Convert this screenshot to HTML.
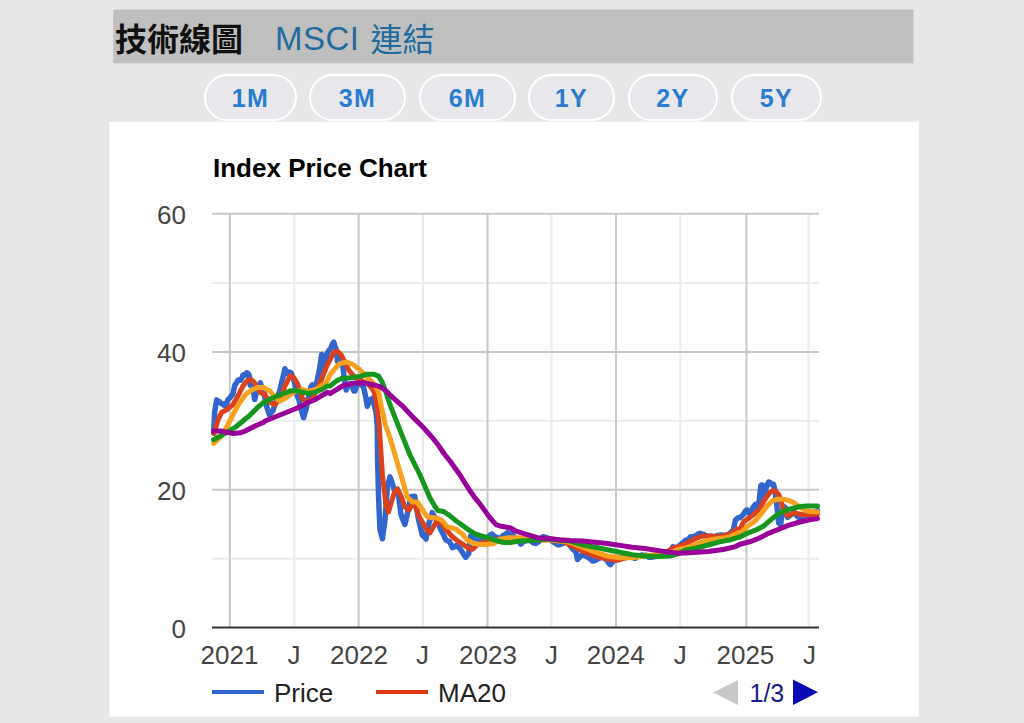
<!DOCTYPE html>
<html lang="zh-Hant">
<head>
<meta charset="utf-8">
<title>技術線圖</title>
<style>
html,body{margin:0;padding:0;}
body{width:1024px;height:723px;overflow:hidden;background:#e7e7e7;position:relative;font-family:"Liberation Sans","Noto Sans CJK TC",sans-serif;}
.bar{position:absolute;left:113px;top:9px;width:800px;height:55px;background:#bfbfbf;}
.ttl{position:absolute;left:115px;top:15px;font-size:32px;font-weight:bold;color:#111;line-height:50px;font-family:"Liberation Sans","Noto Sans CJK TC",sans-serif;letter-spacing:0px;}
.lnk{position:absolute;left:277px;top:13px;font-size:30px;color:#1f6b9e;line-height:50px;font-family:"Liberation Sans","Noto Sans CJK TC",sans-serif;}
.btn{position:absolute;top:74px;background:#e8e8ec;height:43px;border:2px solid #fff;border-radius:24px;box-sizing:content-box;color:#2a7ccf;font-weight:bold;font-size:25px;line-height:45px;letter-spacing:1.5px;text-align:center;}
svg{position:absolute;left:0;top:0;}
</style>
</head>
<body>
<svg width="1024" height="723" style="position:absolute;left:0;top:0"><rect x="113.2" y="9.6" width="800.3" height="53.8" fill="#bfbfbf"/></svg>
<div class="ttl">技術線圖</div>
<div class="lnk" style="left:275px;top:14px;font-size:33px;letter-spacing:0.5px">MSCI</div><div class="lnk" style="left:370.5px;top:15px;font-size:32px">連結</div>
<div class="btn" style="left:204px;width:89px;">1M</div>
<div class="btn" style="left:309px;width:93px;">3M</div>
<div class="btn" style="left:419px;width:93px;">6M</div>
<div class="btn" style="left:528px;width:83px;">1Y</div>
<div class="btn" style="left:628px;width:86px;">2Y</div>
<div class="btn" style="left:731px;width:87px;">5Y</div>
<svg width="1024" height="723" viewBox="0 0 1024 723" font-family="Liberation Sans, Arial, sans-serif">
<rect x="109.3" y="121.7" width="809.5" height="595" fill="#fff"/>
<text x="213" y="177" font-size="26" font-weight="bold" fill="#000">Index Price Chart</text>
<g stroke="#ebebeb" stroke-width="2">
<line x1="212" y1="282.9" x2="819" y2="282.9"/>
<line x1="212" y1="420.8" x2="819" y2="420.8"/>
<line x1="212" y1="558.7" x2="819" y2="558.7"/>
<line x1="294.3" y1="213" x2="294.3" y2="627"/>
<line x1="423" y1="213" x2="423" y2="627"/>
<line x1="551.5" y1="213" x2="551.5" y2="627"/>
<line x1="680.3" y1="213" x2="680.3" y2="627"/>
<line x1="808.5" y1="213" x2="808.5" y2="627"/>
</g>
<g stroke="#c8c8c8" stroke-width="2">
<line x1="212" y1="213.8" x2="819" y2="213.8"/>
<line x1="212" y1="351.9" x2="819" y2="351.9"/>
<line x1="212" y1="489.8" x2="819" y2="489.8"/>
<line x1="229.8" y1="213" x2="229.8" y2="627"/>
<line x1="358.6" y1="213" x2="358.6" y2="627"/>
<line x1="487.5" y1="213" x2="487.5" y2="627"/>
<line x1="616" y1="213" x2="616" y2="627"/>
<line x1="746.4" y1="213" x2="746.4" y2="627"/>
</g>
<g fill="none" stroke-width="5" stroke-linejoin="round" stroke-linecap="round">
<polyline stroke="#3366cc" stroke-width="5.5" points="213.6,432.9 214.8,411.0 216.7,399.9 217.9,401.1 219.2,401.5 220.4,402.7 221.7,403.8 222.9,403.8 224.2,405.5 225.4,405.9 226.7,402.7 227.9,399.8 229.2,398.6 230.4,397.3 231.7,395.1 232.9,394.2 234.8,385.1 235.8,383.8 236.9,382.4 237.9,380.3 239.1,379.9 240.4,380.3 241.6,378.6 242.6,375.8 243.7,374.7 244.7,375.3 246.6,372.9 247.8,373.4 249.1,375.1 250.3,385.4 251.6,385.6 252.8,387.1 254.7,399.6 256.5,392.1 257.8,389.7 259.0,386.2 260.3,382.8 261.5,386.5 262.8,388.6 264.0,390.3 265.0,398.3 266.2,404.7 267.5,409.1 269.4,414.8 270.4,413.4 271.5,412.4 272.5,411.4 273.5,408.7 274.5,405.8 275.5,403.4 276.5,399.7 277.5,396.6 278.7,393.6 280.0,389.8 281.2,384.5 282.4,379.4 283.7,374.1 284.9,368.8 286.1,372.0 287.4,373.6 288.7,372.1 289.9,372.2 291.2,373.0 292.4,376.5 293.6,378.8 294.9,384.4 296.1,391.9 297.4,396.4 298.6,398.7 299.9,403.8 301.1,409.5 302.4,413.8 303.6,417.8 304.9,413.2 306.1,409.0 307.3,402.9 308.6,397.3 309.8,390.3 311.1,386.6 312.3,385.0 313.6,386.1 314.8,385.7 316.1,384.1 317.3,379.6 318.6,373.8 319.8,367.6 321.7,354.4 323.5,370.5 324.8,366.0 326.0,359.1 327.3,353.2 328.6,351.2 330.0,349.1 331.2,347.5 332.5,344.0 333.7,342.1 334.9,345.9 336.2,349.4 337.5,361.6 339.3,361.6 341.2,358.6 343.1,368.6 344.3,377.6 346.2,390.1 347.4,387.0 348.7,384.5 349.7,384.2 350.8,383.8 351.8,384.2 352.8,388.4 353.9,391.0 354.9,391.1 356.8,385.8 357.8,384.3 358.9,384.2 359.9,382.5 361.1,382.8 362.4,385.8 363.6,387.1 365.5,395.9 367.3,406.4 368.6,402.8 369.8,399.7 371.1,399.6 372.3,398.3 374.2,404.7 376.1,412.9 377.3,426.3 377.5,456.3 378.7,500.7 380.0,529.8 381.2,534.0 382.4,538.8 383.7,529.2 385.0,520.0 386.2,503.8 387.4,486.9 388.7,481.8 390.0,476.9 391.2,480.2 392.4,483.8 393.6,487.8 394.9,491.1 396.1,492.4 397.4,493.8 398.6,495.8 399.8,504.8 401.0,514.4 402.3,518.2 403.5,521.2 404.8,524.5 406.1,519.5 407.3,514.0 408.5,507.7 409.8,502.1 411.0,496.7 412.3,496.4 413.5,496.3 414.8,496.3 416.0,504.3 417.3,512.1 418.5,519.3 419.7,524.3 421.0,529.7 422.2,535.0 423.5,536.3 424.7,537.2 426.0,539.0 427.2,531.8 428.5,524.4 429.7,520.8 431.0,517.0 432.2,512.6 433.3,514.6 434.4,516.7 435.4,518.2 436.5,520.1 437.6,522.3 438.7,524.5 440.0,527.7 441.3,530.6 442.6,532.9 444.1,536.1 445.5,539.5 446.8,540.4 448.1,541.1 449.4,541.5 450.9,544.4 452.3,547.6 453.6,547.1 454.8,546.3 456.1,545.5 457.4,546.5 458.7,547.4 460.0,548.6 461.4,550.7 462.9,553.1 464.4,555.4 465.8,557.3 467.2,555.5 468.7,553.8 469.7,544.8 470.7,535.8 472.1,536.8 473.6,538.1 474.7,538.7 475.9,539.1 477.0,539.9 478.0,540.1 479.0,539.9 480.0,539.3 481.0,538.7 482.1,538.7 483.2,538.4 484.4,538.2 485.5,538.1 486.6,537.8 487.7,537.4 488.8,536.5 489.9,535.5 490.9,534.5 492.0,534.0 493.1,535.1 494.2,536.6 495.4,537.2 496.5,537.1 497.6,538.0 498.7,538.9 499.8,538.1 500.9,537.7 501.9,536.7 503.0,535.6 504.1,535.1 505.2,534.7 506.4,533.6 507.5,532.6 508.6,533.5 509.8,533.8 510.8,533.8 511.9,534.5 512.9,535.4 513.9,536.5 515.0,538.2 516.2,538.9 517.3,539.3 518.5,540.5 519.6,542.4 520.8,544.1 521.9,543.0 523.1,542.0 524.2,541.4 525.4,541.0 526.6,540.6 527.7,539.5 528.7,539.9 529.8,540.6 530.8,541.0 531.9,541.6 532.9,542.6 533.9,543.1 535.0,543.2 536.0,543.5 537.0,542.6 538.0,542.1 539.0,541.4 540.0,540.4 541.0,539.3 542.0,538.0 543.0,536.7 544.1,537.1 545.2,537.3 546.3,537.4 547.4,538.0 548.5,538.4 549.6,538.8 550.7,539.4 551.7,540.8 552.8,541.9 553.9,542.2 555.0,542.7 556.0,543.8 557.1,544.5 558.2,544.9 559.3,544.7 560.5,544.5 561.6,543.8 562.7,543.5 563.9,542.8 565.0,541.8 566.0,542.2 567.0,542.4 568.0,543.5 569.0,544.6 570.0,545.1 571.0,546.7 572.1,548.2 573.1,549.5 574.1,550.4 575.2,551.2 576.2,553.0 577.5,559.5 578.7,557.9 580.0,556.7 581.2,555.8 582.4,554.3 583.5,554.4 584.5,555.2 585.5,556.0 586.6,556.5 587.7,557.2 588.7,557.8 589.9,558.7 591.2,559.6 592.4,561.1 593.4,561.0 594.4,560.9 595.4,560.4 596.4,559.7 597.4,559.1 598.4,558.7 599.4,558.2 600.4,557.6 601.4,556.9 602.4,556.4 603.6,557.6 604.8,558.5 606.1,559.7 607.3,561.0 608.4,562.5 609.4,563.9 610.5,564.6 611.6,563.0 612.6,562.0 613.7,560.9 614.8,559.7 615.8,559.4 616.8,558.4 617.8,557.6 618.8,557.9 619.8,558.0 620.8,557.8 621.9,557.0 622.9,556.7 623.9,556.7 625.0,556.2 626.0,556.1 627.1,556.7 628.2,556.7 629.3,556.7 630.4,557.0 631.4,557.3 632.5,557.3 633.6,557.7 634.7,558.4 635.8,558.1 636.8,557.0 637.9,556.2 639.0,556.1 640.1,555.6 641.1,555.2 642.2,555.0 643.3,555.4 644.4,555.4 645.5,555.3 646.5,555.3 647.6,556.2 648.7,557.3 649.8,557.3 650.9,557.3 652.0,557.0 653.1,557.0 654.2,556.6 655.2,556.0 656.3,555.9 657.4,555.8 658.5,555.3 659.6,554.9 660.6,555.0 661.6,554.6 662.6,553.9 663.6,553.5 664.6,553.4 665.6,553.4 666.6,553.2 667.6,553.1 668.6,553.0 669.6,552.9 670.7,551.1 671.9,548.7 673.0,546.7 674.1,547.2 675.3,547.7 676.5,547.6 677.6,547.4 679.0,546.0 680.5,544.6 681.6,543.8 682.6,543.3 683.7,542.1 684.7,541.0 685.7,540.3 686.7,540.4 688.0,539.8 689.2,538.2 690.5,536.7 691.6,536.9 692.8,536.9 694.0,536.3 695.1,535.9 696.2,535.4 697.2,534.8 698.3,534.0 699.3,533.4 700.4,533.3 701.5,534.4 702.7,534.8 703.8,534.3 704.8,535.0 705.9,535.7 706.9,535.7 708.0,536.2 709.1,536.4 710.3,536.2 711.3,536.0 712.3,536.4 713.3,537.2 714.4,537.0 715.6,536.2 716.8,535.6 717.9,535.4 719.0,535.5 720.0,534.9 721.1,534.9 722.1,535.3 723.2,535.4 724.2,535.2 725.2,535.4 726.2,535.1 727.3,534.7 728.3,534.3 729.3,533.8 730.6,532.8 731.8,531.5 733.1,530.6 734.2,525.9 735.4,520.4 736.4,519.0 737.4,518.3 738.4,517.7 740.0,517.7 741.3,516.5 742.6,515.3 743.9,513.5 745.3,511.2 746.8,509.8 748.2,512.1 749.7,513.9 751.2,511.3 752.6,508.2 754.0,506.1 755.5,504.4 757.4,508.1 758.4,504.1 759.4,499.6 760.8,485.5 761.8,484.9 762.8,485.1 764.2,496.1 766.1,487.8 767.4,485.0 768.6,482.0 769.8,482.3 771.0,484.1 772.2,484.4 773.4,484.3 774.9,490.2 776.8,505.3 778.7,523.0 779.7,524.1 780.7,525.1 781.6,516.1 782.6,511.8 783.6,506.2 785.5,508.0 786.5,513.2 787.5,517.4 789.0,516.0 790.4,515.2 791.7,514.2 792.9,513.2 794.2,512.3 795.5,513.9 796.8,515.7 798.1,517.0 799.4,517.3 800.7,518.0 802.0,518.7 803.3,517.3 804.6,516.1 805.9,515.8 807.2,515.7 808.4,515.2 809.7,514.3 810.9,513.7 812.0,513.7 813.2,513.5 814.3,512.6 815.5,511.8 816.5,511.3 817.5,510.7"/>
<polyline stroke="#d9421c" points="214.2,433.4 218.0,419.8 221.7,412.3 226.7,409.8 232.9,404.8 237.9,396.1 242.9,386.1 247.8,380.0 251.6,380.0 255.3,383.7 260.3,392.4 265.0,394.8 270.0,402.3 275.0,404.8 280.0,398.5 284.9,386.1 289.9,376.1 293.6,377.4 297.4,383.6 302.4,398.5 307.3,402.3 312.3,398.5 317.3,388.6 322.3,377.4 327.3,364.9 330.0,359.9 333.7,352.4 337.5,351.2 341.2,354.9 344.9,362.4 348.7,369.9 352.4,374.8 357.4,378.6 362.4,381.1 367.3,383.5 371.1,387.3 374.2,392.3 376.1,401.0 377.9,414.7 379.2,425.0 382.4,474.5 386.0,505.0 388.5,512.0 391.0,503.0 394.5,492.0 397.6,489.0 401.0,496.0 405.0,507.0 409.0,510.0 413.5,501.5 419.8,518.0 427.3,530.5 430.0,532.8 433.9,526.0 436.8,521.1 441.6,524.1 446.5,529.9 451.3,535.7 457.1,540.5 462.9,544.4 468.7,548.3 472.6,549.2 476.5,545.4 482.3,542.5 490.0,541.5 498.7,539.1 508.4,539.8 522.2,540.5 536.0,539.8 549.9,539.8 563.7,541.9 570.0,544.8 582.4,551.0 594.9,556.0 607.3,559.0 617.3,560.3 626.0,557.8 638.5,556.0 650.9,555.4 663.4,553.5 673.8,548.0 681.4,545.7 689.0,541.9 696.6,538.1 702.7,535.9 709.5,535.9 715.6,536.6 723.2,535.9 730.8,533.6 736.9,529.0 740.0,529.2 743.9,521.5 749.7,517.6 754.5,513.7 759.4,509.9 763.2,502.1 767.1,496.3 770.0,492.4 772.9,490.5 775.8,491.5 778.7,494.4 780.7,500.2 782.6,507.0 784.6,511.8 787.5,515.7 790.4,514.7 794.2,512.8 798.1,513.7 803.0,514.7 807.8,514.7 817.5,514.2"/>
<polyline stroke="#f7a11f" points="213.6,443.4 220.4,437.2 226.7,427.2 232.9,414.8 239.1,403.6 245.3,394.9 251.6,389.9 257.8,387.4 264.0,387.4 265.0,388.6 270.0,391.1 275.0,397.3 280.0,401.0 284.9,398.5 289.9,394.8 296.1,391.1 302.4,389.8 308.6,391.1 314.8,389.8 321.0,386.1 327.3,381.1 330.0,374.8 335.0,368.6 340.0,363.6 346.2,361.8 352.4,364.3 358.6,368.6 364.9,374.8 369.8,379.8 374.8,384.8 378.5,392.3 381.0,404.7 383.5,415.9 385.4,425.0 390.0,438.0 394.9,454.6 402.3,479.5 407.3,497.0 412.3,502.0 417.3,502.0 422.2,509.4 427.2,516.8 430.0,517.3 437.7,518.2 442.6,521.1 447.4,527.0 452.3,527.9 457.1,529.9 462.0,533.7 466.8,539.6 471.6,542.5 478.4,544.4 486.2,544.4 493.9,543.4 500.1,539.1 508.4,537.7 518.0,537.7 529.1,539.1 543.0,539.8 556.8,540.5 570.0,542.3 582.4,547.3 594.9,552.2 607.3,556.0 619.8,557.8 632.2,557.8 644.7,556.0 657.1,554.7 669.6,553.5 677.6,549.5 685.2,548.0 692.8,545.7 700.4,542.7 708.0,540.4 715.6,538.9 723.2,538.1 730.8,536.6 738.4,532.8 740.0,533.1 747.7,526.3 755.5,520.5 761.3,513.7 767.1,506.0 772.0,501.1 776.8,499.2 782.6,499.2 788.4,500.2 794.2,503.1 800.0,507.0 805.9,510.8 811.7,511.8 817.5,511.8"/>
<polyline stroke="#17961f" points="213.6,439.7 220.4,436.0 227.9,431.6 235.4,427.2 242.9,421.0 250.3,414.8 257.8,407.3 264.0,402.3 265.0,402.3 271.2,398.5 277.5,396.0 283.7,393.5 289.9,391.1 296.1,390.4 302.4,392.3 308.6,393.5 314.8,392.3 321.0,389.8 327.3,386.1 330.0,386.0 336.2,381.1 342.4,378.0 348.7,378.0 354.9,377.3 361.1,376.1 367.3,374.2 373.6,374.2 378.5,376.1 382.3,382.3 386.0,392.3 390.0,404.7 399.9,429.8 409.8,454.6 419.8,474.5 430.0,498.0 433.9,504.7 437.7,510.5 443.6,511.5 449.4,515.3 455.2,520.2 462.0,525.0 468.7,529.9 474.6,533.7 480.4,535.7 488.1,537.6 495.9,540.5 503.6,542.5 510.0,542.5 518.0,541.2 529.1,540.5 540.2,539.8 551.2,539.1 562.3,540.5 570.0,541.0 582.4,544.8 594.9,547.3 607.3,549.8 619.8,552.2 632.2,554.7 644.7,556.0 657.1,556.6 669.6,556.0 677.6,554.1 685.2,550.3 696.6,548.0 708.0,545.0 719.4,541.9 730.8,539.7 738.4,537.4 740.0,537.0 747.7,533.1 755.5,530.2 763.2,526.3 771.0,519.6 778.7,513.7 784.6,510.8 790.4,508.9 798.1,507.0 805.9,506.0 817.5,506.0"/>
<polyline stroke="#990099" points="213.6,431.0 220.4,431.0 226.7,432.2 232.9,433.4 240.4,432.8 245.3,431.0 251.6,427.8 257.8,424.7 264.0,422.2 265.0,421.0 271.2,418.5 277.5,416.0 283.7,413.5 289.9,411.0 296.1,408.5 302.4,405.4 308.6,402.3 314.8,399.8 321.0,396.0 327.3,392.3 330.0,393.5 336.2,389.8 342.4,386.0 348.7,384.2 354.9,382.9 361.1,382.9 367.3,383.5 373.6,384.8 379.8,386.7 384.8,389.8 390.0,394.8 396.6,400.8 403.2,406.6 409.0,413.0 415.7,419.9 423.2,427.3 430.6,435.5 438.1,444.8 444.0,453.5 450.0,461.0 454.8,467.7 459.7,474.5 464.5,482.3 469.4,490.0 474.2,496.8 479.0,502.6 483.9,509.4 488.7,516.1 493.6,522.0 496.5,524.9 501.3,526.3 510.0,527.8 515.3,530.8 526.4,534.3 537.4,537.7 548.5,538.4 559.5,539.8 570.0,540.5 582.4,541.0 594.9,542.3 607.3,543.5 619.8,545.4 632.2,547.3 644.7,548.5 657.1,550.4 669.6,552.2 679.9,553.3 692.8,552.6 708.0,551.4 723.2,549.5 734.6,546.9 740.0,544.2 749.7,541.8 759.4,538.0 769.1,533.1 778.7,529.2 788.4,525.4 798.1,522.5 807.8,520.0 817.5,518.6"/>
</g>
<line x1="212" y1="627.5" x2="819" y2="627.5" stroke="#333" stroke-width="2"/>
<g font-size="26" fill="#444" text-anchor="end">
<text x="186" y="224">60</text>
<text x="186" y="362">40</text>
<text x="186" y="500">20</text>
<text x="186" y="638">0</text>
</g>
<g font-size="26" fill="#444" text-anchor="middle">
<text x="229.5" y="664">2021</text>
<text x="294" y="664">J</text>
<text x="359" y="664">2022</text>
<text x="422.5" y="664">J</text>
<text x="488" y="664">2023</text>
<text x="551.5" y="664">J</text>
<text x="615.7" y="664">2024</text>
<text x="680.3" y="664">J</text>
<text x="745.4" y="664">2025</text>
<text x="809.5" y="664">J</text>
</g>
<line x1="212" y1="692" x2="264" y2="692" stroke="#3366cc" stroke-width="4"/>
<text x="274" y="702" font-size="26" fill="#222">Price</text>
<line x1="376" y1="692" x2="428" y2="692" stroke="#dc3912" stroke-width="4"/>
<text x="438" y="702" font-size="26" fill="#222">MA20</text>
<polygon points="738,680 738,705 713,692.5" fill="#c8c8c8"/>
<text x="749.5" y="702" font-size="25" fill="#1a1a8c">1/3</text>
<polygon points="793,679.5 793,705 818,692.3" fill="#0a0ab5"/>
</svg>
</body>
</html>
